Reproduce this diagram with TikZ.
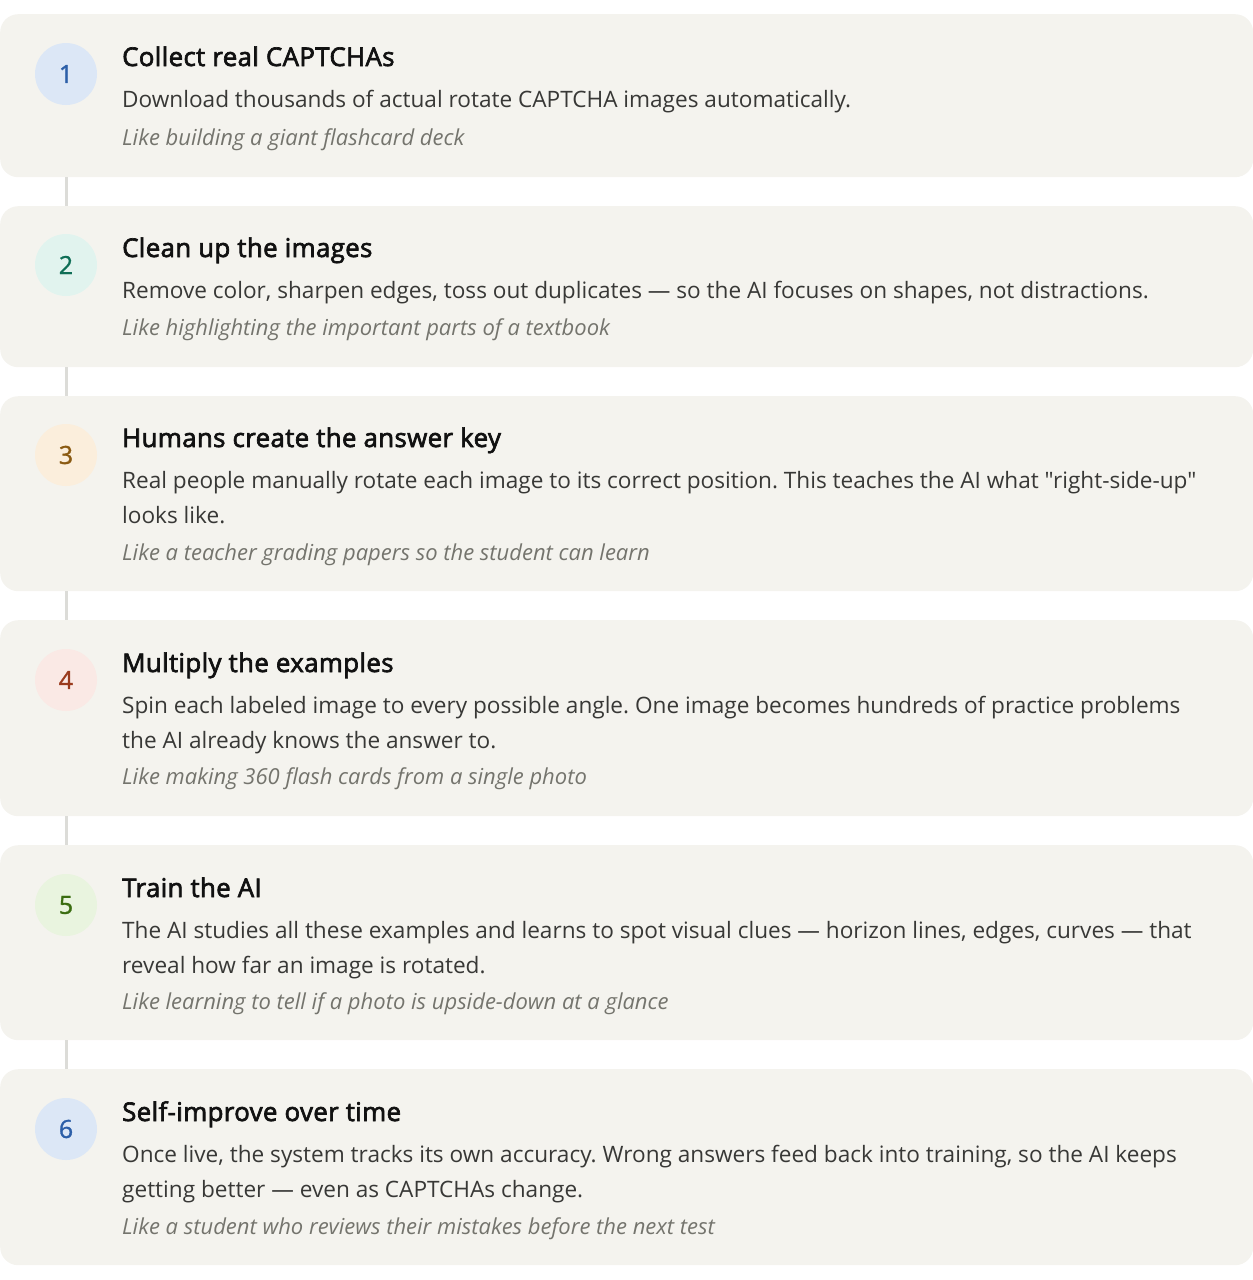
\documentclass[tikz,border=0pt]{standalone}
\usepackage{fontspec}
\setmainfont{Open Sans}[Ligatures=TeXOff]
\frenchspacing
\definecolor{cardbg}{HTML}{F4F3EE}
\definecolor{linec}{HTML}{DCDCD8}
\definecolor{titlec}{HTML}{111111}
\definecolor{bodyc}{HTML}{383836}
\definecolor{notec}{HTML}{74746D}
\definecolor{bgA}{HTML}{DCE7F6}\definecolor{fgA}{HTML}{2C5FA8}
\definecolor{bgB}{HTML}{E1F3EE}\definecolor{fgB}{HTML}{0F6E56}
\definecolor{bgC}{HTML}{FBEEDC}\definecolor{fgC}{HTML}{8A5A12}
\definecolor{bgD}{HTML}{FAE9E5}\definecolor{fgD}{HTML}{9A3B1E}
\definecolor{bgE}{HTML}{E9F4DF}\definecolor{fgE}{HTML}{3B6D11}
\begin{document}
\begin{tikzpicture}[x=1pt,y=-1pt,
  card/.style={fill=cardbg, rounded corners=18pt, minimum width=1253pt, inner sep=0pt, anchor=north west, draw=none},
  num/.style={circle, minimum size=62pt, inner sep=0pt, font=\fontsize{25}{26}\selectfont\addfontfeature{FakeBold=1.2}},
  ttl/.style={anchor=base west, inner sep=0pt, font=\fontsize{25.8}{30}\selectfont\addfontfeature{FakeBold=2.6,LetterSpace=1.5}, text=titlec},
  bdy/.style={anchor=base west, inner sep=0pt, font=\fontsize{22.6}{26}\selectfont, text=bodyc},
  note/.style={anchor=base west, inner sep=0pt, font=\itshape\fontsize{22}{24}\selectfont, text=notec},
  link/.style={draw=linec, line width=3pt}]
\useasboundingbox (0,0) rectangle (1253,1280);
% cards
\node[card, minimum height=163pt] (card1) at (0,14) {};
\node[card, minimum height=161pt] (card2) at (0,206) {};
\node[card, minimum height=195pt] (card3) at (0,396) {};
\node[card, minimum height=196pt] (card4) at (0,620) {};
\node[card, minimum height=195pt] (card5) at (0,845) {};
\node[card, minimum height=196pt] (card6) at (0,1069) {};
% connectors
\coordinate (ax) at (66,0);
\draw[link] (card1.south -| ax) -- (card2.north -| ax);
\draw[link] (card2.south -| ax) -- (card3.north -| ax);
\draw[link] (card3.south -| ax) -- (card4.north -| ax);
\draw[link] (card4.south -| ax) -- (card5.north -| ax);
\draw[link] (card5.south -| ax) -- (card6.north -| ax);
% circles
\node[num, fill=bgA, text=fgA] (n1) at (66,74) {1};
\node[num, fill=bgB, text=fgB] (n2) at (66,265) {2};
\node[num, fill=bgC, text=fgC] (n3) at (66,455) {3};
\node[num, fill=bgD, text=fgD] (n4) at (66,680) {4};
\node[num, fill=bgE, text=fgE] (n5) at (66,905) {5};
\node[num, fill=bgA, text=fgA] (n6) at (66,1129) {6};
% step 1
\node[ttl] (t1) at (122,66) {Collect real CAPTCHAs};
\node[bdy] (b1) at (122,107) {Download thousands of actual rotate CAPTCHA images automatically.};
\node[note] (c1) at (122,145) {Like building a giant flashcard deck};
% step 2
\node[ttl] (t2) at (122,257) {Clean up the images};
\node[bdy] (b2) at (122,298) {Remove color, sharpen edges, toss out duplicates — so the AI focuses on shapes, not distractions.};
\node[note] (c2) at (122,335) {Like highlighting the important parts of a textbook};
% step 3
\node[ttl] (t3) at (122,447) {Humans create the answer key};
\node[bdy] (b3a) at (122,488) {Real people manually rotate each image to its correct position. This teaches the AI what "right-side-up"};
\node[bdy] (b3b) at (122,523) {looks like.};
\node[note] (c3) at (122,560) {Like a teacher grading papers so the student can learn};
% step 4
\node[ttl] (t4) at (122,672) {Multiply the examples};
\node[bdy] (b4a) at (122,713) {Spin each labeled image to every possible angle. One image becomes hundreds of practice problems};
\node[bdy] (b4b) at (122,748) {the AI already knows the answer to.};
\node[note] (c4) at (122,784) {Like making 360 flash cards from a single photo};
% step 5
\node[ttl] (t5) at (122,897) {Train the AI};
\node[bdy] (b5a) at (122,938) {The AI studies all these examples and learns to spot visual clues — horizon lines, edges, curves — that};
\node[bdy] (b5b) at (122,973) {reveal how far an image is rotated.};
\node[note] (c5) at (122,1009) {Like learning to tell if a photo is upside-down at a glance};
% step 6
\node[ttl] (t6) at (122,1121) {Self-improve over time};
\node[bdy] (b6a) at (122,1162) {Once live, the system tracks its own accuracy. Wrong answers feed back into training, so the AI keeps};
\node[bdy] (b6b) at (122,1197) {getting better — even as CAPTCHAs change.};
\node[note] (c6) at (122,1234) {Like a student who reviews their mistakes before the next test};
\end{tikzpicture}
\end{document}
